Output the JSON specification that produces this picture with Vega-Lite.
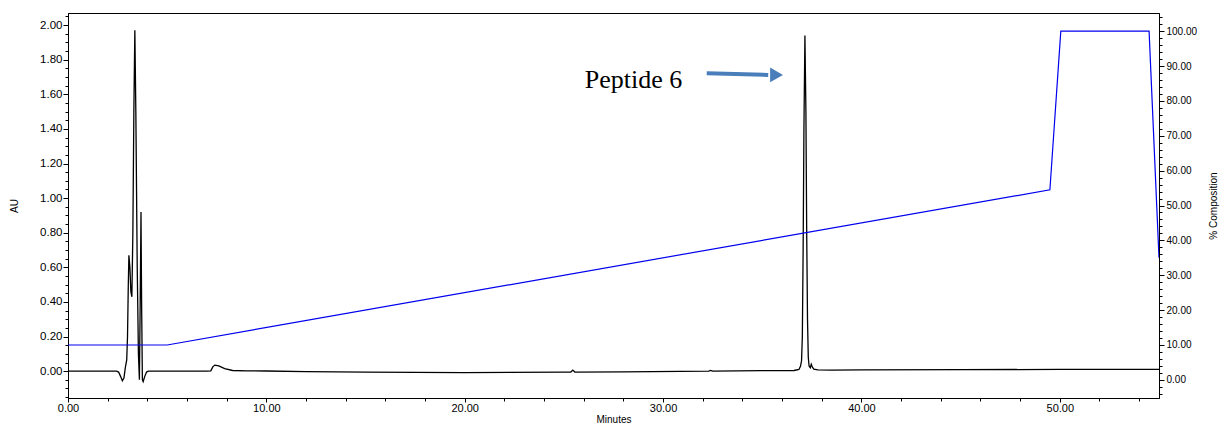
{
  "$schema": "https://vega.github.io/schema/vega-lite/v6.json",
  "width": 1091,
  "height": 385,
  "autosize": {"type": "none"},
  "padding": {"left": 68, "top": 13, "right": 66, "bottom": 28},
  "background": "white",
  "config": {
    "view": {"stroke": "black", "strokeWidth": 1},
    "axis": {"grid": false, "domainColor": "black", "tickColor": "black", "labelColor": "black", "titleColor": "black", "labelFont": "Liberation Sans", "titleFont": "Liberation Sans", "titleFontWeight": "normal"}
  },
  "datasets": {
    "trace": [
      {"min": 0, "au": 0}, {"min": 2.45, "au": 0}, {"min": 2.55, "au": -0.005}, {"min": 2.65, "au": -0.03}, {"min": 2.74, "au": -0.055}, {"min": 2.82, "au": -0.04}, {"min": 2.89, "au": 0.02}, {"min": 2.96, "au": 0.065}, {"min": 3.0, "au": 0.2}, {"min": 3.04, "au": 0.5}, {"min": 3.07, "au": 0.67}, {"min": 3.12, "au": 0.6}, {"min": 3.17, "au": 0.46}, {"min": 3.22, "au": 0.43}, {"min": 3.27, "au": 0.8}, {"min": 3.32, "au": 1.5}, {"min": 3.37, "au": 1.97}, {"min": 3.42, "au": 1.5}, {"min": 3.49, "au": 0.6}, {"min": 3.55, "au": 0.1}, {"min": 3.6, "au": -0.05}, {"min": 3.64, "au": 0.4}, {"min": 3.68, "au": 0.92}, {"min": 3.71, "au": 0.4}, {"min": 3.75, "au": -0.05}, {"min": 3.79, "au": -0.06}, {"min": 3.87, "au": -0.03}, {"min": 3.96, "au": -0.005}, {"min": 4.05, "au": 0}, {"min": 7.0, "au": 0}, {"min": 7.2, "au": 0.002}, {"min": 7.3, "au": 0.025}, {"min": 7.4, "au": 0.035}, {"min": 7.6, "au": 0.03}, {"min": 7.9, "au": 0.015}, {"min": 8.3, "au": 0.004}, {"min": 9, "au": 0.002}, {"min": 10, "au": 0.001}, {"min": 12, "au": -0.003}, {"min": 15, "au": -0.006}, {"min": 20, "au": -0.008}, {"min": 25, "au": -0.006}, {"min": 25.35, "au": -0.005}, {"min": 25.45, "au": 0.006}, {"min": 25.55, "au": -0.005}, {"min": 28, "au": -0.004}, {"min": 32.3, "au": 0.0}, {"min": 32.4, "au": 0.004}, {"min": 32.5, "au": 0.0}, {"min": 35, "au": 0.003}, {"min": 36.6, "au": 0.004}, {"min": 36.85, "au": 0.01}, {"min": 36.93, "au": 0.03}, {"min": 36.98, "au": 0.06}, {"min": 37.02, "au": 0.2}, {"min": 37.06, "au": 0.7}, {"min": 37.1, "au": 1.4}, {"min": 37.15, "au": 1.94}, {"min": 37.2, "au": 1.5}, {"min": 37.24, "au": 0.8}, {"min": 37.28, "au": 0.3}, {"min": 37.32, "au": 0.08}, {"min": 37.36, "au": 0.03}, {"min": 37.42, "au": 0.02}, {"min": 37.47, "au": 0.04}, {"min": 37.52, "au": 0.025}, {"min": 37.6, "au": 0.012}, {"min": 37.8, "au": 0.007}, {"min": 38.5, "au": 0.006}, {"min": 40, "au": 0.007}, {"min": 45, "au": 0.009}, {"min": 50, "au": 0.01}, {"min": 55, "au": 0.011}
    ],
    "gradient": [
      {"min": 0, "pct": 10}, {"min": 5, "pct": 10}, {"min": 49.5, "pct": 54.5}, {"min": 50.05, "pct": 100}, {"min": 54.5, "pct": 100}, {"min": 55, "pct": 35}
    ],
    "arrow": [{"x": 32.2, "y": 1.722, "x2": 35.3, "y2": 1.712, "tip": 35.72}],
    "label": [{"x": 26.05, "y": 1.636, "text": "Peptide 6"}]
  },
  "layer": [
    {
      "data": {"name": "trace"},
      "mark": {"type": "line", "color": "black", "strokeWidth": 1.3, "clip": true},
      "encoding": {
        "x": {"field": "min", "type": "quantitative", "scale": {"domain": [0, 55], "nice": false, "zero": false},
          "axis": {"title": "Minutes", "titleFontSize": 10, "titlePadding": 1, "values": [0,1,2,3,4,5,6,7,8,9,10,11,12,13,14,15,16,17,18,19,20,21,22,23,24,25,26,27,28,29,30,31,32,33,34,35,36,37,38,39,40,41,42,43,44,45,46,47,48,49,50,51,52,53,54,55],
            "labelExpr": "datum.value % 5 === 0 ? format(datum.value, '.2f') : ''", "labelFontSize": 11, "labelPadding": 0, "labelFlush": false, "labelOverlap": false,
            "tickSize": {"condition": {"test": "datum.value % 5 === 0", "value": 4}, "value": 3}}},
        "y": {"field": "au", "type": "quantitative", "scale": {"domain": [-0.155, 2.07], "nice": false, "zero": false},
          "axis": {"title": "AU", "titleFontSize": 10, "titlePadding": 20, "values": [-0.15,-0.1,-0.05,0,0.05,0.1,0.15,0.2,0.25,0.3,0.35,0.4,0.45,0.5,0.55,0.6,0.65,0.7,0.75,0.8,0.85,0.9,0.95,1,1.05,1.1,1.15,1.2,1.25,1.3,1.35,1.4,1.45,1.5,1.55,1.6,1.65,1.7,1.75,1.8,1.85,1.9,1.95,2,2.05],
            "labelExpr": "abs(datum.value*5 - round(datum.value*5)) < 0.001 ? format(datum.value, '.2f') : ''", "labelFontSize": 11.5, "labelPadding": 1, "labelOverlap": false, "labelFlush": false,
            "tickSize": {"condition": {"test": "abs(datum.value*5 - round(datum.value*5)) < 0.001", "value": 5}, "value": 3}}}
      }
    },
    {
      "data": {"name": "arrow"},
      "mark": {"type": "rule", "color": "#4a7ebb", "strokeWidth": 4},
      "encoding": {"x": {"field": "x", "type": "quantitative"}, "y": {"field": "y", "type": "quantitative", "scale": {"domain": [-0.155, 2.07], "nice": false, "zero": false}, "axis": null}, "x2": {"field": "x2"}, "y2": {"field": "y2"}}
    },
    {
      "data": {"name": "arrow"},
      "mark": {"type": "point", "shape": "triangle-right", "filled": true, "color": "#4a7ebb", "size": 220, "opacity": 1},
      "encoding": {"x": {"field": "tip", "type": "quantitative"}, "y": {"field": "y2", "type": "quantitative", "scale": {"domain": [-0.155, 2.07], "nice": false, "zero": false}, "axis": null}}
    },
    {
      "data": {"name": "label"},
      "mark": {"type": "text", "font": "Liberation Serif", "fontSize": 26, "align": "left", "baseline": "alphabetic", "color": "black"},
      "encoding": {"x": {"field": "x", "type": "quantitative"}, "y": {"field": "y", "type": "quantitative", "scale": {"domain": [-0.155, 2.07], "nice": false, "zero": false}, "axis": null}, "text": {"field": "text"}}
    },
    {
      "data": {"name": "gradient"},
      "mark": {"type": "line", "color": "#0000ee", "strokeWidth": 1.2, "clip": true},
      "encoding": {
        "x": {"field": "min", "type": "quantitative"},
        "y": {"field": "pct", "type": "quantitative", "scale": {"domain": [-5.2, 105.2], "nice": false, "zero": false},
          "axis": {"orient": "right", "title": "% Composition", "titleAngle": 270, "titleFontSize": 10, "titlePadding": 22,
            "values": [-4,-2,0,2,4,6,8,10,12,14,16,18,20,22,24,26,28,30,32,34,36,38,40,42,44,46,48,50,52,54,56,58,60,62,64,66,68,70,72,74,76,78,80,82,84,86,88,90,92,94,96,98,100,102,104],
            "labelExpr": "datum.value % 10 === 0 ? format(datum.value, '.2f') : ''", "labelFontSize": 10, "labelPadding": 2, "labelOverlap": false, "labelFlush": false,
            "tickSize": {"condition": {"test": "datum.value % 10 === 0", "value": 5}, "value": 3}}}
      }
    }
  ],
  "resolve": {"scale": {"y": "independent"}}
}
